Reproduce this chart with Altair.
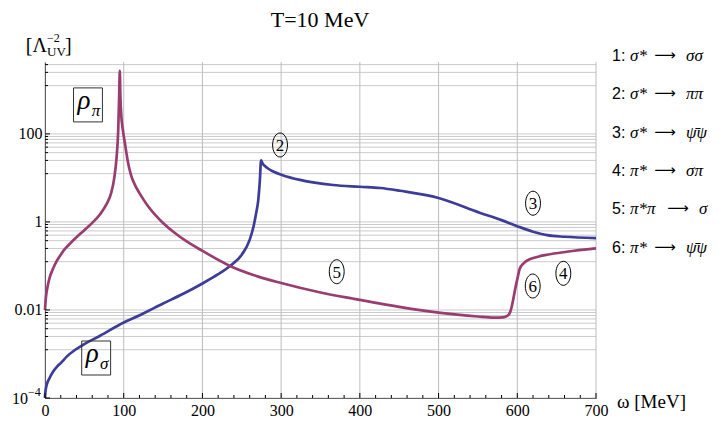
import altair as alt
import pandas as pd

# ---------------- data ----------------
omega_pi = [0, 1, 3, 6, 10, 15, 20, 25, 30, 40, 50, 60, 70, 78, 84, 88, 91, 93, 94.2, 95, 95.8,
            97, 99, 101.6, 105, 109, 115, 120, 130, 140, 150, 165, 180, 200, 235, 270, 300,
            350, 392, 450, 500, 550, 570, 582, 588, 591, 593, 595, 597, 600, 603, 608, 615,
            625, 638, 663, 700]
rho_pi = [0.01, 0.018, 0.032, 0.055, 0.085, 0.13, 0.18, 0.24, 0.3, 0.45, 0.65, 0.95, 1.5, 2.5,
          4.5, 10, 30, 120, 700, 2700, 700, 250, 120, 60, 25, 12, 6.5, 4.5, 2.4, 1.45, 0.95,
          0.56, 0.36, 0.22, 0.1, 0.058, 0.041, 0.025, 0.018, 0.0118, 0.0087, 0.0071, 0.0067,
          0.0068, 0.0075, 0.009, 0.012, 0.018, 0.028, 0.05, 0.085, 0.115, 0.14, 0.16, 0.18,
          0.21, 0.25]

omega_sigma = [0, 0.5, 1.3, 2.5, 4.5, 6.4, 10, 15, 20, 27.6, 38, 48, 70, 100, 121, 150, 175,
               200, 220, 235, 250, 260, 265, 268, 271, 273, 274.5, 276, 282, 290, 301, 324,
               366, 400, 426, 451, 500, 553, 580, 600, 620, 638, 660, 700]
rho_sigma = [1e-4, 1.37e-4, 1.7e-4, 2.1e-4, 2.56e-4, 3e-4, 3.9e-4, 5.1e-4, 6.2e-4, 8.7e-4,
             1.23e-3, 1.6e-3, 2.6e-3, 5.2e-3, 7.7e-3, 0.014, 0.023, 0.04, 0.065, 0.1, 0.18,
             0.39, 0.8, 1.5, 3.2, 9, 25, 22, 17, 14, 11.7, 9, 6.9, 6.3, 5.9, 5.1, 3.5, 1.6, 1.1,
             0.8, 0.6, 0.5, 0.46, 0.43]

x_grid = [0, 100, 200, 300, 400, 500, 600, 700]
x_minor = [v for v in range(0, 701, 20) if v % 100 != 0]
y_majors = [1e-4, 1e-2, 1, 100, 1e4]
y_fracs = [1, 7/8, 6/8, 5/8, 4/8, 3/8, 2/8, 1/8]
y_labeled = [1e-2, 1, 100]

circ_text = ["2", "3", "4", "5", "6"]
circ_omega = [298.6, 620, 658.5, 370.6, 619.6]
circ_val = [56, 2.66, 0.068, 0.074, 0.035]

legend_num = ["1:", "2:", "3:", "4:", "5:", "6:"]
legend_left = ["σ*", "σ*", "σ*", "π*", "π*π", "π*"]
legend_right = ["σσ", "ππ", "ψ̄ψ", "σπ", "σ", "ψ̄ψ"]
legend_long_left = [False, False, False, False, True, False]

box_names = ["π", "σ"]
box_omega = [54.6, 65]
box_val = [456, 8.1e-4]

# ---------------- chart ----------------
W, H = 551, 336
YMIN, YMAX = 1e-4, 4300
SERIF = "Liberation Serif"
SANS = "Liberation Sans"
MAG = "#993D71"
BLU = "#3D3D99"

xs = alt.Scale(domain=[0, 700], nice=False, zero=False)
ys = alt.Scale(type="log", domain=[YMIN, YMAX], nice=False)

x_axis = alt.Axis(values=x_grid, title=None, grid=False, ticks=False, domain=True,
                  domainColor="black", domainWidth=1, labelFont=SERIF, labelFontSize=16,
                  labelColor="black", labelPadding=4, labelFlush=False, labelOverlap=False)
y_axis = alt.Axis(values=y_labeled, title=None, grid=False, ticks=False, domain=True,
                  domainColor="black", domainWidth=1, labelFont=SERIF, labelFontSize=16,
                  labelColor="black", labelPadding=3, labelFlush=False, labelOverlap=False,
                  labelExpr="datum.value < 0.1 ? '0.01' : datum.value < 10 ? '1' : '100'")

y_grid_vals = [m * f for m in y_majors for f in y_fracs if YMIN <= m * f <= YMAX]
y_major_in = [m for m in y_majors if YMIN <= m <= YMAX]
y_minor_in = [v for v in y_grid_vals if v not in y_major_in]

df_pi = pd.DataFrame({"w": omega_pi, "r": rho_pi})
df_s = pd.DataFrame({"w": omega_sigma, "r": rho_sigma})

# grid layers carry the axes (drawn first, below the curves)
hgrid = alt.Chart(pd.DataFrame({"v": y_grid_vals})).mark_rule(color="#cbcbcb", strokeWidth=1).encode(
    y=alt.Y("v:Q", scale=ys, axis=y_axis), x=alt.value(0), x2=alt.value(W))
vgrid = alt.Chart(pd.DataFrame({"v": x_grid})).mark_rule(color="#bdbdbd", strokeWidth=1).encode(
    x=alt.X("v:Q", scale=xs, axis=x_axis), y=alt.value(0), y2=alt.value(H))

line_s = alt.Chart(df_s).mark_line(color=BLU, strokeWidth=2.7, interpolate="monotone").encode(
    x=alt.X("w:Q", scale=xs), y=alt.Y("r:Q", scale=ys))
line_pi = alt.Chart(df_pi).mark_line(color=MAG, strokeWidth=2.7, interpolate="monotone").encode(
    x=alt.X("w:Q", scale=xs), y=alt.Y("r:Q", scale=ys))

# inner ticks
xt_major = alt.Chart(pd.DataFrame({"v": x_grid})).mark_rule(color="black").encode(
    x=alt.X("v:Q", scale=xs), y=alt.value(H), y2=alt.value(H - 5))
xt_minor = alt.Chart(pd.DataFrame({"v": x_minor})).mark_rule(color="black").encode(
    x=alt.X("v:Q", scale=xs), y=alt.value(H), y2=alt.value(H - 3))
yt_major = alt.Chart(pd.DataFrame({"v": y_major_in})).mark_rule(color="black").encode(
    y=alt.Y("v:Q", scale=ys), x=alt.value(0), x2=alt.value(5))
yt_minor = alt.Chart(pd.DataFrame({"v": y_minor_in})).mark_rule(color="black").encode(
    y=alt.Y("v:Q", scale=ys), x=alt.value(0), x2=alt.value(3))

# circled labels
ELL = "M -0.62 0 A 0.62 1 0 1 1 0.62 0 A 0.62 1 0 1 1 -0.62 0 Z"
df_c = pd.DataFrame({"t": circ_text, "w": circ_omega, "r": circ_val})
circ = alt.Chart(df_c).mark_point(shape=ELL, size=576, filled=False, color="black",
                                  strokeWidth=1, opacity=1).encode(
    x=alt.X("w:Q", scale=xs), y=alt.Y("r:Q", scale=ys))
circ_t = alt.Chart(df_c).mark_text(font=SERIF, fontSize=17, color="black", baseline="middle",
                                   dy=1).encode(
    x=alt.X("w:Q", scale=xs), y=alt.Y("r:Q", scale=ys), text="t:N")

# boxed rho labels
BOX = "M -0.85 -1 L 0.85 -1 L 0.85 1 L -0.85 1 Z"
df_b = pd.DataFrame({"n": box_names, "w": box_omega, "r": box_val, "rho": ["ρ", "ρ"]})
box = alt.Chart(df_b).mark_point(shape=BOX, size=1156, filled=False, color="#333333",
                                 strokeWidth=1, opacity=1).encode(
    x=alt.X("w:Q", scale=xs), y=alt.Y("r:Q", scale=ys))
box_rho = alt.Chart(df_b).mark_text(font=SERIF, fontStyle="italic", fontSize=27, color="black",
                                    baseline="alphabetic", dx=-4, dy=4).encode(
    x=alt.X("w:Q", scale=xs), y=alt.Y("r:Q", scale=ys), text="rho:N")
box_sub = alt.Chart(df_b).mark_text(font=SERIF, fontStyle="italic", fontSize=17, color="black",
                                    baseline="alphabetic", dx=8, dy=11).encode(
    x=alt.X("w:Q", scale=xs), y=alt.Y("r:Q", scale=ys), text="n:N")


def txt(text, x, y, size, font=SERIF, style="normal", align="left", baseline="alphabetic"):
    return alt.Chart(pd.DataFrame({"t": [text]})).mark_text(
        font=font, fontSize=size, fontStyle=style, align=align, baseline=baseline,
        color="black").encode(x=alt.value(x), y=alt.value(y), text="t:N")


texts = [
    txt("T=10 MeV", 275, -35, 22, align="center"),
    txt("ω [MeV]", 572, 346, 19),
    txt("[Λ", 2, -10, 20, align="right"),
    txt("−2", 2, -20, 12),
    txt("UV", 2, -6, 13),
    txt("]", 20, -10, 20),
    txt("10", -17, H + 6, 16, align="right"),
    txt("−4", -17, H - 2, 12),
]
leg_y = [-7, 31.3, 69.7, 108, 146.3, 184.7]
for n, lft, rgt, longl, yy in zip(legend_num, legend_left, legend_right, legend_long_left, leg_y):
    base = yy + 6
    shift = 13 if longl else 0
    texts.append(txt(n, 567, base, 16, font=SANS))
    texts.append(txt(lft, 585, base, 17, style="italic"))
    texts.append(txt("⟶", 620 + shift, base - 1, 15, font="DejaVu Sans", align="center"))
    texts.append(txt(rgt, 641 + shift, base, 17, style="italic"))

chart = alt.layer(
    hgrid, vgrid, line_s, line_pi, xt_major, xt_minor, yt_major, yt_minor,
    circ, circ_t, box, box_rho, box_sub, *texts
).properties(
    width=W, height=H,
    autosize=alt.AutoSizeParams(type="none"),
    padding={"left": 37, "top": 54, "right": 124, "bottom": 22},
    background="white",
).configure_view(stroke=None)

chart.save("out.html", embed_options={"renderer": "svg", "actions": False})
